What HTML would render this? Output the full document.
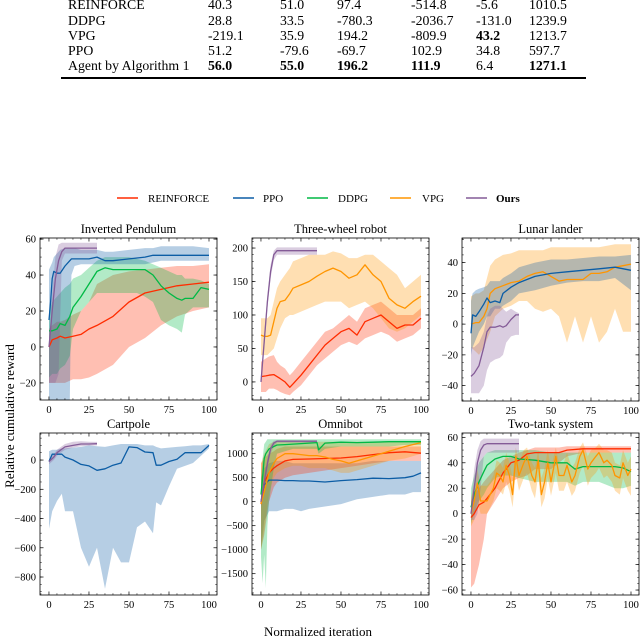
<!DOCTYPE html>
<html><head><meta charset="utf-8">
<style>
html,body{margin:0;padding:0;background:#fff;}
#root{position:relative;width:640px;height:639px;overflow:hidden;font-family:"Liberation Serif",serif;color:#000;}
.t{position:absolute;font-size:13.8px;line-height:14px;white-space:nowrap;}
.b{font-weight:bold;}
svg{position:absolute;left:0;top:0;}
</style></head>
<body>
<div id="root">
<div>
<div class="t" style="left:68px;top:-2px">REINFORCE</div>
<div class="t" style="left:208px;top:-2px">40.3</div>
<div class="t" style="left:280px;top:-2px">51.0</div>
<div class="t" style="left:337px;top:-2px">97.4</div>
<div class="t" style="left:411px;top:-2px">-514.8</div>
<div class="t" style="left:476px;top:-2px">-5.6</div>
<div class="t" style="left:529px;top:-2px">1010.5</div>

<div class="t" style="left:68px;top:14px">DDPG</div>
<div class="t" style="left:208px;top:14px">28.8</div>
<div class="t" style="left:280px;top:14px">33.5</div>
<div class="t" style="left:337px;top:14px">-780.3</div>
<div class="t" style="left:411px;top:14px">-2036.7</div>
<div class="t" style="left:476px;top:14px">-131.0</div>
<div class="t" style="left:529px;top:14px">1239.9</div>

<div class="t" style="left:68px;top:29px">VPG</div>
<div class="t" style="left:208px;top:29px">-219.1</div>
<div class="t" style="left:280px;top:29px">35.9</div>
<div class="t" style="left:337px;top:29px">194.2</div>
<div class="t" style="left:411px;top:29px">-809.9</div>
<div class="t b" style="left:476px;top:29px">43.2</div>
<div class="t" style="left:529px;top:29px">1213.7</div>

<div class="t" style="left:68px;top:44px">PPO</div>
<div class="t" style="left:208px;top:44px">51.2</div>
<div class="t" style="left:280px;top:44px">-79.6</div>
<div class="t" style="left:337px;top:44px">-69.7</div>
<div class="t" style="left:411px;top:44px">102.9</div>
<div class="t" style="left:476px;top:44px">34.8</div>
<div class="t" style="left:529px;top:44px">597.7</div>

<div class="t" style="left:68px;top:59px">Agent by Algorithm 1</div>
<div class="t b" style="left:208px;top:59px">56.0</div>
<div class="t b" style="left:280px;top:59px">55.0</div>
<div class="t b" style="left:337px;top:59px">196.2</div>
<div class="t b" style="left:411px;top:59px">111.9</div>
<div class="t" style="left:476px;top:59px">6.4</div>
<div class="t b" style="left:529px;top:59px">1271.1</div>
<div style="position:absolute;left:61px;top:77px;width:525px;height:1.5px;background:#000"></div>
</div>
<svg id="fig" width="640" height="639" xmlns="http://www.w3.org/2000/svg"></svg>
</div>
<script>
// ---------- data ----------
// Inverted Pendulum
const ipOursX=[0,2,4,6,8,10,15,20,25,30];
const ipOursM=[0,20,38,48,53,55,55,55,55,55];
const ipOursLo=[-20,-20,-20,-15,48,52,52,52,52,52];
const ipOursHi=[0,30,50,57,58,58,58,58,58,58];
const ipPpoX=[0,1,2,3,5,7,10,13,14,16,20,25,30,35,40,50,60,65,70,80,90,100];
const ipPpoM=[15,25,38,42,41,41,45,48,49,49,49,49,50,48,48,49,50,51,51,51,51,51];
const ipPpoLo=[-30,-30,-30,-30,-30,-30,-30,-30,40,45,46,46,46,46,46,46,46,47,48,48,48,48];
const ipPpoHi=[43,45,47,50,52,54,55,55,55,55,54,54,54,53,53,54,55,55,56,56,56,55];
const ipDdpgX=[0,2,5,7,10,13,15,20,25,30,35,40,50,55,60,65,70,75,80,83,85,90,95,100];
const ipDdpgM=[9,9,10,13,12,17,22,28,35,42,44,43,43,43,43,40,34,30,27,26,27,27,33,32];
const ipDdpgLo=[-17,-15,-15,-12,-10,-5,10,20,25,30,30,30,30,30,28,25,15,12,10,8,18,22,22,22];
const ipDdpgHi=[20,25,28,30,33,35,38,40,44,48,50,50,50,49,48,46,44,42,40,40,38,38,37,35];
const ipReinX=[0,2,5,7,10,15,20,25,30,40,50,60,70,80,90,100];
const ipReinM=[0,4,5,6,5,6,7,10,12,17,25,30,32,34,35,36];
const ipReinLo=[-20,-20,-20,-20,-20,-18,-18,-17,-15,-10,0,5,12,17,20,22];
const ipReinHi=[10,12,14,14,15,18,20,25,35,40,42,43,44,45,45,46];
// Three-wheel robot
const twOursX=[0,2,4,6,8,10,15,20,25,30,35];
const twOursM=[0,60,120,165,190,196,196,196,196,196,196];
const twOursLo=[0,50,110,155,182,190,190,190,190,190,190];
const twOursHi=[5,70,130,175,196,201,201,201,201,201,201];
const twVpgX=[0,2,4,6,8,10,12,15,18,20,25,30,35,40,45,50,55,60,65,70,75,80,85,90,95,100];
const twVpgM=[70,68,68,70,90,110,120,122,132,140,145,150,158,165,170,165,155,160,175,160,150,125,115,110,120,128];
const twVpgLo=[40,40,40,45,50,65,80,95,100,100,105,110,115,120,120,120,110,115,120,110,95,80,75,80,90,100];
const twVpgHi=[95,95,95,100,120,140,150,160,170,180,185,190,190,190,195,192,185,185,190,190,180,170,160,140,150,160];
const twReinX=[0,3,5,8,10,12,15,18,20,25,30,35,40,45,50,55,60,65,70,75,80,85,90,95,100];
const twReinM=[8,9,10,11,8,5,0,-8,-3,10,25,40,55,65,75,80,70,90,95,100,90,80,85,85,95];
const twReinLo=[-15,-15,-10,-10,-12,-15,-18,-20,-15,-5,10,25,35,45,55,60,55,65,70,75,70,60,65,70,80];
const twReinHi=[30,35,38,40,30,25,20,10,15,30,45,60,75,80,90,100,90,110,115,120,110,100,100,100,110];
// Lunar lander
const llPpoX=[0,1,3,5,8,10,12,15,18,20,25,30,40,50,60,70,80,90,100];
const llPpoM=[-6,6,5,8,13,17,14,15,14,20,24,27,31,33,34,35,36,37,35];
const llPpoLo=[-20,-15,-10,-5,0,5,5,10,10,12,15,20,22,25,27,28,28,30,22];
const llPpoHi=[15,20,22,23,24,25,28,28,28,30,33,37,40,42,42,43,44,44,45];
const llVpgX=[0,3,5,8,10,12,15,20,25,30,35,40,45,50,55,60,65,70,75,80,85,90,95,100];
const llVpgM=[0,1,1,5,10,20,23,25,27,28,31,33,34,31,28,29,29,29,33,33,34,37,38,39];
const llVpgLo=[-15,-18,-20,-15,-10,-5,5,10,12,15,15,10,8,10,5,-12,5,-12,5,-12,-5,10,-5,-5];
const llVpgHi=[18,20,20,22,30,38,42,45,46,48,48,48,48,50,50,50,50,50,50,50,51,52,52,52];
const llOursX=[0,2,5,8,10,12,15,18,20,22,25,28,30];
const llOursM=[-34,-32,-27,-15,-5,-2,-2,-1,-2,-1,3,6,6];
const llOursLo=[-45,-45,-45,-40,-30,-25,-23,-22,-20,-12,-8,-7,-7];
const llOursHi=[-15,-15,-12,-5,5,10,12,12,10,8,10,8,7];
// Cartpole
const cpOursX=[0,3,5,8,10,15,20,25,30];
const cpOursM=[-10,20,50,75,90,100,110,110,112];
const cpOursLo=[-30,0,30,55,70,85,95,98,100];
const cpOursHi=[5,40,70,95,110,125,128,125,124];
const cpPpoX=[0,2,5,8,10,15,20,25,30,35,40,45,50,55,60,65,67,70,75,80,85,90,95,100];
const cpPpoM=[-10,40,40,40,20,0,-30,-40,-70,-60,-35,-20,90,85,55,50,-35,-35,-10,5,50,50,50,100];
const cpPpoLo=[-470,-350,-280,-230,-350,-350,-600,-730,-600,-880,-600,-700,-700,-460,-420,-500,-290,-310,-180,-60,-40,-20,30,80];
const cpPpoHi=[60,70,70,80,80,85,90,100,95,90,100,110,110,110,100,100,90,80,85,90,95,100,100,110];
// Omnibot
const obOursX=[0,2,4,6,8,10,15,20,25,30,35];
const obOursM=[0,400,800,1100,1220,1260,1260,1260,1260,1260,1260];
const obOursLo=[-100,300,700,1000,1150,1230,1230,1230,1230,1230,1230];
const obOursHi=[100,500,900,1180,1270,1280,1280,1280,1280,1280,1280];
const obDdpgX=[0,1,2,3,4,5,8,10,15,20,25,30,35,36,40,50,60,70,80,90,100];
const obDdpgM=[150,500,900,1000,1050,1100,1150,1180,1190,1200,1210,1220,1230,1080,1220,1240,1230,1240,1250,1250,1250];
const obDdpgLo=[-1150,-1700,-1100,-1800,-500,0,700,1000,1050,1100,1100,1100,1100,1000,1100,1150,1150,1150,1150,1180,1180];
const obDdpgHi=[500,900,1200,1250,1300,1300,1300,1300,1300,1300,1300,1300,1300,1300,1300,1300,1300,1300,1300,1300,1300];
const obReinX=[0,2,5,8,10,15,20,30,40,50,60,70,80,90,100];
const obReinM=[-50,400,600,700,750,850,880,890,900,910,940,980,1020,1040,1010];
const obReinLo=[-1000,-700,0,300,400,500,550,600,650,700,750,800,850,850,850];
const obReinHi=[800,900,1000,1050,1100,1150,1150,1150,1150,1150,1150,1150,1150,1150,1150];
const obVpgX=[0,2,5,8,10,15,20,25,30,35,40,45,50,55,60,65,70,75,80,90,100];
const obVpgM=[-50,200,600,800,900,1000,1000,980,960,960,930,880,850,800,850,900,950,1000,1050,1150,1230];
const obVpgLo=[-1000,-600,200,500,600,700,750,750,700,700,700,650,600,600,650,700,750,800,850,900,1000];
const obVpgHi=[800,1000,1200,1250,1250,1250,1250,1250,1250,1250,1250,1250,1250,1250,1250,1250,1250,1250,1250,1250,1260];
const obPpoX=[0,2,5,10,15,20,25,30,40,50,60,70,80,90,95,100];
const obPpoM=[0,350,450,450,440,440,430,430,410,440,460,490,480,500,530,600];
const obPpoLo=[-1000,-400,-200,-200,-150,-150,-200,-150,-100,-50,50,100,150,150,200,200];
const obPpoHi=[500,700,800,850,850,800,800,800,800,800,800,850,850,850,850,850];
// Two-tank system
const ttOursX=[0,2,4,6,8,10,15,20,25,30];
const ttOursM=[0,20,40,50,54,55,55,55,55,55];
const ttOursLo=[-5,-5,0,20,45,48,48,48,48,48];
const ttOursHi=[10,35,50,57,59,59,59,59,59,59];
const ttReinX=[0,2,5,8,10,15,20,25,30,35,40,50,55,60,70,80,90,100];
const ttReinM=[-3,0,7,9,12,20,32,40,42,47,48,48,48,50,51,51,51,51];
const ttReinLo=[-58,-55,-40,-20,0,10,20,25,28,30,35,35,40,45,48,48,48,48];
const ttReinHi=[10,15,20,25,28,35,42,45,48,50,52,52,52,53,53,53,53,53];
const ttDdpgX=[0,2,5,8,10,15,20,25,30,40,50,60,65,70,80,90,95,100];
const ttDdpgM=[5,15,25,33,38,43,45,45,43,42,40,40,35,37,37,37,36,33];
const ttDdpgLo=[-8,0,10,15,20,28,30,30,28,25,25,25,22,25,25,20,20,22];
const ttDdpgHi=[20,30,40,45,48,50,50,50,50,50,48,48,48,48,48,48,48,48];
const ttVpgX=[0,2,4,6,8,10,12,14,16,18,20,22,24,26,28,30,33,35,38,40,42,44,46,48,50,53,55,58,60,63,65,68,70,73,75,78,80,83,85,88,90,93,95,98,100];
const ttVpgM=[0,10,24,10,10,10,15,20,32,30,25,38,30,15,45,30,40,45,30,25,42,15,25,40,25,45,30,30,38,25,30,45,50,35,40,45,48,40,42,38,30,28,40,30,35];
const ttVpgLo=[-10,-5,10,0,0,0,5,10,20,18,15,25,18,5,32,18,28,32,18,12,30,5,12,28,14,32,18,18,25,14,18,32,38,22,28,32,36,28,30,25,18,15,28,18,14];
const ttVpgHi=[12,22,35,22,22,22,25,30,42,40,36,48,40,28,52,40,50,52,40,36,50,28,36,50,36,52,40,40,48,36,40,52,56,45,50,52,55,50,50,48,40,38,50,40,45];

// ---------- figure ----------
const C={rein:'#FF2C00',ppo:'#0C5DA5',ddpg:'#00B945',vpg:'#FF9500',ours:'#845B97'};
const NS='http://www.w3.org/2000/svg';
const svg=document.getElementById('fig');
function el(tag,attrs,parent){const e=document.createElementNS(NS,tag);for(const k in attrs)e.setAttribute(k,attrs[k]);(parent||svg).appendChild(e);return e;}

const panels=[
 {name:'inverted-pendulum',title:'Inverted Pendulum',box:[40,238,217,400],ylim:[-29.5,60.6],yt:[-20,0,20,40,60],ym:5,
  series:[['rein',ipReinX,ipReinM,ipReinLo,ipReinHi],['ddpg',ipDdpgX,ipDdpgM,ipDdpgLo,ipDdpgHi],['ppo',ipPpoX,ipPpoM,ipPpoLo,ipPpoHi],['ours',ipOursX,ipOursM,ipOursLo,ipOursHi]]},
 {name:'three-wheel-robot',title:'Three-wheel robot',box:[252,238,429,400],ylim:[-27,215],yt:[0,50,100,150,200],ym:10,
  series:[['rein',twReinX,twReinM,twReinLo,twReinHi],['vpg',twVpgX,twVpgM,twVpgLo,twVpgHi],['ours',twOursX,twOursM,twOursLo,twOursHi]]},
 {name:'lunar-lander',title:'Lunar lander',box:[462,238,639,401],ylim:[-50,56],yt:[-40,-20,0,20,40],ym:5,
  series:[['vpg',llVpgX,llVpgM,llVpgLo,llVpgHi],['ppo',llPpoX,llPpoM,llPpoLo,llPpoHi],['ours',llOursX,llOursM,llOursLo,llOursHi]]},
 {name:'cartpole',title:'Cartpole',box:[40,433,217,595],ylim:[-923,185],yt:[-800,-600,-400,-200,0],ym:50,
  series:[['ppo',cpPpoX,cpPpoM,cpPpoLo,cpPpoHi],['ours',cpOursX,cpOursM,cpOursLo,cpOursHi]]},
 {name:'omnibot',title:'Omnibot',box:[252,433,429,595],ylim:[-1944,1431],yt:[-1500,-1000,-500,0,500,1000],ym:100,
  series:[['ppo',obPpoX,obPpoM,obPpoLo,obPpoHi],['rein',obReinX,obReinM,obReinLo,obReinHi],['vpg',obVpgX,obVpgM,obVpgLo,obVpgHi],['ddpg',obDdpgX,obDdpgM,obDdpgLo,obDdpgHi],['ours',obOursX,obOursM,obOursLo,obOursHi]]},
 {name:'two-tank-system',title:'Two-tank system',box:[462,433,639,595],ylim:[-63.9,63.4],yt:[-60,-40,-20,0,20,40,60],ym:5,
  series:[['rein',ttReinX,ttReinM,ttReinLo,ttReinHi],['ddpg',ttDdpgX,ttDdpgM,ttDdpgLo,ttDdpgHi],['vpg',ttVpgX,ttVpgM,ttVpgLo,ttVpgHi],['ours',ttOursX,ttOursM,ttOursLo,ttOursHi]]}
];
const XLIM=[-5.6,105];
const xTicks=[0,25,50,75,100];
function fmt(v){return v<0?'\u2212'+(-v):String(v);}

panels.forEach(p=>{
  const [x0,y0,x1,y1]=p.box;
  const sx=v=>x0+(v-XLIM[0])/(XLIM[1]-XLIM[0])*(x1-x0);
  const sy=v=>y1-(v-p.ylim[0])/(p.ylim[1]-p.ylim[0])*(y1-y0);
  const g=el('g',{});
  
  
  const clipId='clip-'+p.name;
  const cp=el('clipPath',{id:clipId},g);
  el('rect',{x:x0,y:y0,width:x1-x0,height:y1-y0},cp);
  const plot=el('g',{'clip-path':'url(#'+clipId+')'},g);
  p.series.forEach(s=>{
    const [key,xs,m,lo,hi]=s;
    let d='M'+xs.map((x,i)=>sx(x).toFixed(1)+','+sy(hi[i]).toFixed(1)).join('L');
    for(let i=xs.length-1;i>=0;i--)d+='L'+sx(xs[i]).toFixed(1)+','+sy(lo[i]).toFixed(1);
    const band=el('path',{d:d+'Z',fill:C[key],'fill-opacity':0.3,stroke:'none'},plot);
    
    
  });
  p.series.forEach(s=>{
    const [key,xs,m]=s;
    const line=el('polyline',{points:xs.map((x,i)=>sx(x).toFixed(1)+','+sy(m[i]).toFixed(1)).join(' '),fill:'none',stroke:C[key],'stroke-width':1.3,'stroke-linejoin':'round'},plot);
    
    
  });
  const fr=el('rect',{x:x0,y:y0,width:x1-x0,height:y1-y0,fill:'none',stroke:'#000','stroke-width':0.8},g);
  
  
  xTicks.forEach(v=>{
    const x=sx(v);
    el('line',{x1:x,x2:x,y1:y1,y2:y1-3.5,stroke:'#000','stroke-width':0.7},g);
    el('line',{x1:x,x2:x,y1:y0,y2:y0+3.5,stroke:'#000','stroke-width':0.7},g);
    const t=el('text',{x:x,y:y1+13,'text-anchor':'middle','font-size':10.5,'font-family':'Liberation Serif, serif'},g);
    t.textContent=fmt(v);
    
    
  });
  for(let v=-5;v<=105;v+=5){ if(v%25===0)continue; const x=sx(v); if(x<x0||x>x1)continue;
    el('line',{x1:x,x2:x,y1:y1,y2:y1-1.8,stroke:'#000','stroke-width':0.5},g);
    el('line',{x1:x,x2:x,y1:y0,y2:y0+1.8,stroke:'#000','stroke-width':0.5},g);}
  p.yt.forEach(v=>{
    const y=sy(v);
    el('line',{x1:x0,x2:x0+3.5,y1:y,y2:y,stroke:'#000','stroke-width':0.7},g);
    el('line',{x1:x1,x2:x1-3.5,y1:y,y2:y,stroke:'#000','stroke-width':0.7},g);
    const t=el('text',{x:x0-4,y:y+3.5,'text-anchor':'end','font-size':10.5,'font-family':'Liberation Serif, serif'},g);
    t.textContent=fmt(v);
    
    
  });
  const start=Math.ceil(p.ylim[0]/p.ym)*p.ym;
  for(let v=start;v<=p.ylim[1];v+=p.ym){ const y=sy(v);
    el('line',{x1:x0,x2:x0+1.8,y1:y,y2:y,stroke:'#000','stroke-width':0.5},g);
    el('line',{x1:x1,x2:x1-1.8,y1:y,y2:y,stroke:'#000','stroke-width':0.5},g);}
  const tt=el('text',{x:(x0+x1)/2,y:y0-5,'text-anchor':'middle','font-size':12.5,'font-family':'Liberation Serif, serif'},g);
  tt.textContent=p.title;
  
  
});

const legendItems=[['rein','REINFORCE',117,148],['ppo','PPO',233,263],['ddpg','DDPG',307,338],['vpg','VPG',390,422],['ours','Ours',466,496]];
const lg=el('g',{});


legendItems.forEach(it=>{
  const g=el('g',{},lg);
  
  
  el('line',{x1:it[2],x2:it[2]+21,y1:198,y2:198,stroke:C[it[0]],'stroke-width':1.5},g);
  const t=el('text',{x:it[3],y:202,'font-size':11,'font-family':'Liberation Serif, serif','font-weight':it[0]==='ours'?'bold':'normal'},g);
  t.textContent=it[1];
});
const yl=el('text',{x:0,y:0,transform:'translate(14,416) rotate(-90)','text-anchor':'middle','font-size':13,'font-family':'Liberation Serif, serif'});
yl.textContent='Relative cumulative reward';


const xl=el('text',{x:318,y:636,'text-anchor':'middle','font-size':13,'font-family':'Liberation Serif, serif'});
xl.textContent='Normalized iteration';


</script>
</body></html>
